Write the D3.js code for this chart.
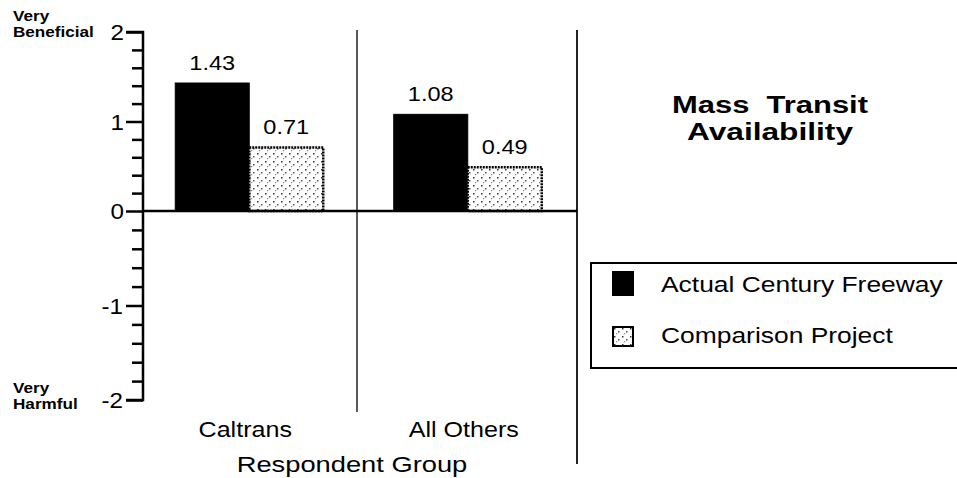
<!DOCTYPE html>
<html><head><meta charset="utf-8">
<script src="https://cdn.jsdelivr.net/npm/d3@7"></script>
<style>body{margin:0;background:#fff}svg{display:block;font-family:"Liberation Sans",Arial,sans-serif}</style>
</head><body><svg id="c" width="957" height="478"></svg>
<script>
const categories = ["Caltrans", "All Others"];
const seriesNames = ["Actual Century Freeway", "Comparison Project"];
const actualValues = [1.43, 1.08];
const comparisonValues = [0.71, 0.49];
const valueLabels = [["1.43", "0.71"], ["1.08", "0.49"]];
const yTicks = [2, 1, 0, -1, -2];
const title = ["Mass  Transit", "Availability"];
const xTitle = "Respondent Group";

const svg = d3.select("#c");
const x = d3.scaleBand().domain(categories).range([140, 577]);
const y = d3.scaleLinear().domain([-2, 0, 2]).range([400, 211, 32]);
const inner = d3.scaleBand().domain(seriesNames).range([0, 148]);
const barOffset = (x.bandwidth() - 148) / 2;

// stretch text horizontally (reference type is wide)
function widen(sel, k) {
  sel.each(function () {
    const w = this.getComputedTextLength();
    this.setAttribute("textLength", (w * k).toFixed(1));
    this.setAttribute("lengthAdjust", "spacingAndGlyphs");
  });
  return sel;
}

// pattern for comparison bars
const defs = svg.append("defs");
const pat = defs.append("pattern").attr("id", "stip").attr("patternUnits", "userSpaceOnUse").attr("width", 8).attr("height", 8);
pat.append("rect").attr("width", 8).attr("height", 8).attr("fill", "#fff");
pat.append("rect").attr("x", 1).attr("y", 1).attr("width", 1.5).attr("height", 1.5).attr("fill", "#333");
pat.append("rect").attr("x", 5).attr("y", 4).attr("width", 1.5).attr("height", 1.5).attr("fill", "#555");
pat.append("rect").attr("x", 3).attr("y", 6).attr("width", 1.2).attr("height", 1.2).attr("fill", "#888");

// dividers
svg.append("line").attr("x1", 357).attr("x2", 357).attr("y1", 30).attr("y2", 412).attr("stroke", "#222").attr("stroke-width", 1.5);
svg.append("line").attr("x1", 577).attr("x2", 577).attr("y1", 30).attr("y2", 464).attr("stroke", "#222").attr("stroke-width", 2);

// bars
const data = categories.map((c, i) => ({c, vals: [actualValues[i], comparisonValues[i]], labels: valueLabels[i]}));
const g = svg.append("g");
data.forEach(d => {
  d.vals.forEach((v, j) => {
    const bx = x(d.c) + barOffset + inner(seriesNames[j]);
    g.append("rect").attr("x", bx).attr("y", y(v)).attr("width", inner.bandwidth()).attr("height", y(0) - y(v))
      .attr("fill", j === 0 ? "#000" : "url(#stip)")
      .attr("stroke", "#000").attr("stroke-width", j === 0 ? 1 : 2.5).attr("stroke-dasharray", j === 0 ? null : "2,1");
    widen(g.append("text").attr("x", bx + inner.bandwidth() / 2).attr("y", y(v) - 13).attr("text-anchor", "middle")
      .attr("font-size", 21).text(d.labels[j]), 1.12);
  });
});

// zero line
svg.append("line").attr("x1", 143).attr("x2", 577).attr("y1", y(0)).attr("y2", y(0)).attr("stroke", "#000").attr("stroke-width", 2.5);

// y axis with minor ticks every 0.2
const ax = svg.append("g").attr("transform", "translate(143,0)")
  .call(d3.axisLeft(y).tickValues(d3.range(-10, 11).map(v => v / 5)).tickSize(11).tickFormat(""));
ax.select(".domain").attr("stroke-width", 2.5).attr("d", `M-17,${y(2)}H0V${y(-2)}H-17`);
ax.selectAll(".tick line").attr("stroke-width", 2.5).attr("x2", d => Number.isInteger(d) ? -17 : -11);
widen(svg.append("g").selectAll("text").data(yTicks).join("text")
  .attr("x", d => d < 0 ? 123 : 124).attr("y", d => y(d) + 8).attr("text-anchor", "end").attr("font-size", 22)
  .text(d => d < 0 ? "-" + Math.abs(d) : d), 1.1);

// end labels
const endLbl = (lines, yy) => widen(svg.append("text").attr("font-size", 14.5).attr("font-weight", "bold")
  .selectAll("tspan").data(lines).join("tspan").attr("x", 13).attr("y", (d, i) => yy + i * 16).text(d => d), 1.18);
endLbl(["Very", "Beneficial"], 21);
endLbl(["Very", "Harmful"], 393);

// category labels
widen(svg.append("g").selectAll("text").data(categories).join("text")
  .attr("x", d => x(d) + x.bandwidth() / 2 - 4).attr("y", 437).attr("text-anchor", "middle").attr("font-size", 22).text(d => d), 1.14);
widen(svg.append("text").attr("x", 352).attr("y", 472).attr("text-anchor", "middle").attr("font-size", 22).text(xTitle), 1.24);

// title
svg.append("g").selectAll("text").data(title).join("text")
  .attr("x", 770).attr("y", (d, i) => 113 + i * 27).attr("text-anchor", "middle").attr("font-size", 23).attr("font-weight", "bold")
  .attr("xml:space", "preserve").style("white-space", "pre")
  .text(d => d)
  .each(function (d, i) {
    this.setAttribute("textLength", i ? 166 : 196);
    this.setAttribute("lengthAdjust", "spacingAndGlyphs");
  });

// legend
svg.append("rect").attr("x", 591).attr("y", 263).attr("width", 380).attr("height", 105).attr("fill", "none").attr("stroke", "#000").attr("stroke-width", 2);
const lg = svg.append("g").selectAll("g").data(seriesNames).join("g").attr("transform", (d, i) => `translate(613,${i ? 327 : 272})`);
lg.append("rect").attr("width", 20).attr("height", (d, i) => i ? 19 : 23)
  .attr("fill", (d, i) => i ? "url(#stip)" : "#000").attr("stroke", "#000").attr("stroke-width", 2);
widen(lg.append("text").attr("x", 48).attr("y", (d, i) => i ? 16 : 20).attr("font-size", 22).text(d => d), 1.2);
</script></body></html>
